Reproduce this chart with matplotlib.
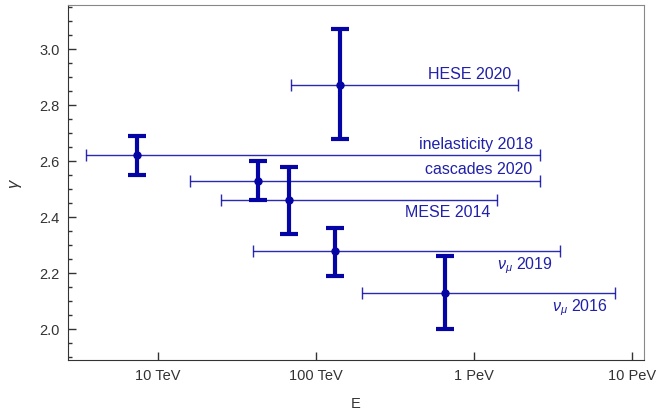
import matplotlib
matplotlib.use('Agg')
import matplotlib.pyplot as plt
from matplotlib.ticker import FixedLocator, MultipleLocator

plt.rcParams['font.family'] = ['Liberation Sans', 'DejaVu Sans']
plt.rcParams['mathtext.fontset'] = 'custom'
plt.rcParams['mathtext.rm'] = 'Liberation Sans'
plt.rcParams['mathtext.it'] = 'Liberation Sans:italic'

# IceCube spectral index measurements (energies in TeV)
labels = ['HESE 2020', 'inelasticity 2018', 'cascades 2020', 'MESE 2014',
          r'$\nu_\mu$ 2019', r'$\nu_\mu$ 2016']
e_center = [142, 7.4, 43, 67, 132, 655]
e_low = [69.4, 3.5, 16, 25, 40, 194]
e_high = [1900, 2600, 2600, 1400, 3500, 7800]
gamma = [2.87, 2.62, 2.53, 2.46, 2.28, 2.13]
gamma_up = [0.20, 0.07, 0.07, 0.12, 0.08, 0.13]
gamma_down = [0.19, 0.07, 0.07, 0.12, 0.09, 0.13]
label_above = [True, True, True, False, False, False]

mark_color = '#0505A5'
text_color = '#2020AA'

fig = plt.figure(figsize=(6.58, 4.10), dpi=100)
ax = fig.add_axes([0.1033, 0.1195, 0.8754, 0.8659])

xerr = [[c - lo for c, lo in zip(e_center, e_low)],
        [hi - c for c, hi in zip(e_center, e_high)]]
ax.errorbar(e_center, gamma, xerr=xerr, fmt='none', ecolor=mark_color,
            elinewidth=1.0, capsize=4, capthick=1.0, alpha=0.85)
ax.errorbar(e_center, gamma, yerr=[gamma_down, gamma_up], fmt='o',
            color=mark_color, ms=5, elinewidth=3, capsize=6.5, capthick=3)

for lab, hi, g, above in zip(labels, e_high, gamma, label_above):
    ax.annotate(lab, xy=(hi, g), xytext=(-5, 3 if above else -3),
                textcoords='offset points', ha='right',
                va='bottom' if above else 'top',
                color=text_color, fontsize=11.5)

ax.set_xscale('log')
ax.set_xlim(2.69, 11900)
ax.set_ylim(1.889, 3.157)

ax.xaxis.set_major_locator(FixedLocator([10, 100, 1000, 10000]))
ax.xaxis.set_minor_locator(FixedLocator([]))
ax.set_xticklabels(['10 TeV', '100 TeV', '1 PeV', '10 PeV'])
ax.yaxis.set_major_locator(MultipleLocator(0.2))
ax.yaxis.set_minor_locator(MultipleLocator(0.05))

ax.tick_params(which='both', direction='in', colors='#333333',
               labelsize=10.5, top=False, right=False)
ax.tick_params(which='major', length=6, width=1)
ax.tick_params(which='minor', length=3, width=1)
ax.tick_params(axis='x', pad=6)
ax.tick_params(axis='y', pad=6)

for side in ['left', 'bottom']:
    ax.spines[side].set_color('#333333')
for side in ['top', 'right']:
    ax.spines[side].set_color('#888888')

ax.set_xlabel('E', fontsize=10.5, color='#333333', labelpad=10)
ax.set_ylabel(r'$\gamma$', fontsize=12, color='#333333', labelpad=11)

fig.savefig('out.png', dpi=100)
